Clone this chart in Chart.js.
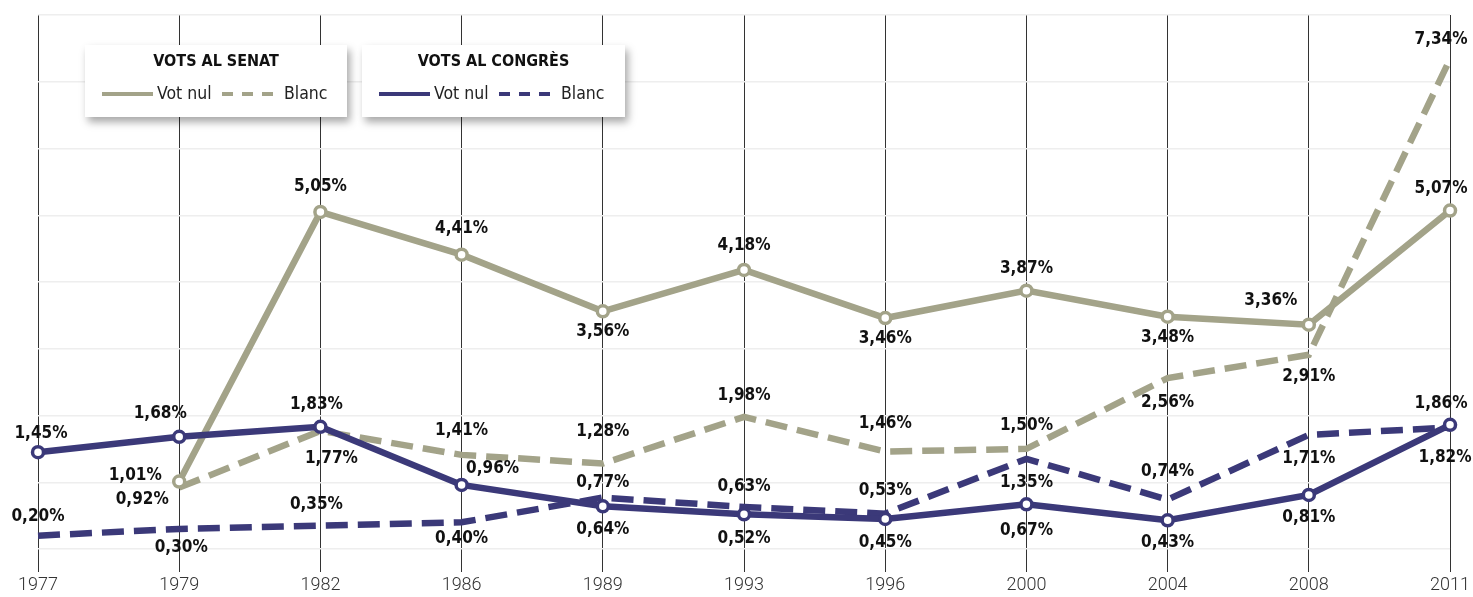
<html>
<head>
<script src="https://cdn.jsdelivr.net/npm/chart.js"></script>
<style>
    body { margin: 0; background: #fff; }
    #wrap { width: 1473px; height: 597px; }
</style>
</head>
<body>
<div id="wrap"><canvas id="chart"></canvas></div>
<script>
    // data
    const years = ['1977', '1979', '1982', '1986', '1989', '1993', '1996', '2000', '2004', '2008', '2011'];
    const senatNul = [null, 1.01, 5.05, 4.41, 3.56, 4.18, 3.46, 3.87, 3.48, 3.36, 5.07];
    const senatBlanc = [null, 0.92, 1.77, 1.41, 1.28, 1.98, 1.46, 1.50, 2.56, 2.91, 7.34];
    const congresNul = [1.45, 1.68, 1.83, 0.96, 0.64, 0.52, 0.45, 0.67, 0.43, 0.81, 1.86];
    const congresBlanc = [0.20, 0.30, 0.35, 0.40, 0.77, 0.63, 0.53, 1.35, 0.74, 1.71, 1.82];

    // where each value label sits relative to its point [dx, dy]
    const senatNulLabels = [null, [-44, -6], [0, -25], [0, -26], [0, 20], [0, -24], [0, 21], [0, -22], [0, 21], [-38, -24], [-9, -22]];
    const senatBlancLabels = [null, [-37, 12], [11, 28], [0, -24], [0, -32], [0, -21], [0, -28], [0, -23], [0, 24], [0, 22], [-9, -19]];
    const congresNulLabels = [[3, -19], [-19, -23], [-4, -22], [31, -16], [0, 23], [0, 24], [0, 24], [0, 26], [0, 22], [0, 23], [-9, -21]];
    const congresBlancLabels = [[0, -19], [2, 19], [-4, -21], [0, 16], [0, -15], [0, -20], [0, -23], [0, 24], [0, -28], [0, 24], [-5, 30]];

    const olive = '#a3a389';
    const navy = '#3b3979';

    function fmt(v) {
        return v.toFixed(2).replace('.', ',') + '%';
    }

    const valueLabels = {
        id: 'valueLabels',
        afterDatasetsDraw(chart) {
            const ctx = chart.ctx;
            ctx.save();
            ctx.font = 'bold 17px "DejaVu Sans Condensed", "DejaVu Sans", sans-serif';
            ctx.fillStyle = '#111';
            ctx.textAlign = 'center';
            ctx.textBaseline = 'middle';
            chart.data.datasets.forEach((ds, di) => {
                const meta = chart.getDatasetMeta(di);
                meta.data.forEach((pt, i) => {
                    const v = ds.data[i];
                    const off = ds.labelPos[i];
                    if (v == null || !off) return;
                    ctx.fillText(fmt(v), pt.x + off[0], pt.y + off[1]);
                });
            });
            ctx.restore();
        }
    };

    function legendBox(ctx, x, y, w, h, title, color) {
        ctx.save();
        ctx.shadowColor = 'rgba(0,0,0,0.35)';
        ctx.shadowBlur = 8;
        ctx.shadowOffsetX = 3;
        ctx.shadowOffsetY = 5;
        ctx.fillStyle = '#fff';
        ctx.fillRect(x, y, w, h);
        ctx.restore();

        ctx.save();
        ctx.fillStyle = '#111';
        ctx.textBaseline = 'middle';
        ctx.textAlign = 'center';
        ctx.font = 'bold 16px "DejaVu Sans Condensed", "DejaVu Sans", sans-serif';
        ctx.fillText(title, x + w / 2, y + 17);

        ctx.strokeStyle = color;
        ctx.lineWidth = 4;
        ctx.beginPath();
        ctx.moveTo(x + 17, y + 49);
        ctx.lineTo(x + 68, y + 49);
        ctx.stroke();
        ctx.setLineDash([11, 9]);
        ctx.beginPath();
        ctx.moveTo(x + 137, y + 49);
        ctx.lineTo(x + 188, y + 49);
        ctx.stroke();

        ctx.font = '17.5px "DejaVu Sans Condensed", "DejaVu Sans", sans-serif';
        ctx.textAlign = 'left';
        ctx.fillStyle = '#222';
        ctx.fillText('Vot nul', x + 72, y + 49);
        ctx.fillText('Blanc', x + 199, y + 49);
        ctx.restore();
    }

    const legendBoxes = {
        id: 'legendBoxes',
        beforeDatasetsDraw(chart) {
            legendBox(chart.ctx, 85, 45, 262, 72, 'VOTS AL SENAT', olive);
            legendBox(chart.ctx, 362, 45, 263, 72, 'VOTS AL CONGRÈS', navy);
        }
    };

    const data = {
        labels: years,
        datasets: [{
            label: 'Congrés vot nul',
            data: congresNul,
            labelPos: congresNulLabels,
            borderColor: navy,
            backgroundColor: '#fff',
            borderWidth: 6.5,
            pointRadius: 5.5,
            pointBorderWidth: 3.5,
            pointBorderColor: navy,
            pointBackgroundColor: '#fff',
            order: 0
        }, {
            label: 'Congrés blanc',
            data: congresBlanc,
            labelPos: congresBlancLabels,
            borderColor: navy,
            borderWidth: 6.5,
            borderDash: [22, 10],
            pointRadius: 0,
            order: 1
        }, {
            label: 'Senat vot nul',
            data: senatNul,
            labelPos: senatNulLabels,
            borderColor: olive,
            backgroundColor: '#fff',
            borderWidth: 6.5,
            pointRadius: 5.5,
            pointBorderWidth: 3.5,
            pointBorderColor: olive,
            pointBackgroundColor: '#fff',
            order: 2
        }, {
            label: 'Senat blanc',
            data: senatBlanc,
            labelPos: senatBlancLabels,
            borderColor: olive,
            borderWidth: 6.5,
            borderDash: [22, 10],
            pointRadius: 0,
            order: 3
        }]
    };

    const config = {
        type: 'line',
        data: data,
        plugins: [legendBoxes, valueLabels],
        options: {
            responsive: true,
            maintainAspectRatio: false,
            animation: false,
            clip: false,
            layout: { padding: { left: 38, right: 22, top: 15, bottom: 0 } },
            plugins: {
                legend: { display: false },
                tooltip: { enabled: false }
            },
            scales: {
                x: {
                    offset: false,
                    border: { display: false },
                    grid: {
                        color: '#333',
                        lineWidth: 1,
                        tickLength: 23,
                        tickColor: '#333'
                    },
                    ticks: {
                        padding: 3,
                        color: '#333',
                        maxRotation: 0,
                        autoSkip: false,
                        font: { family: 'Roboto', weight: 300, size: 18 }
                    },
                    afterFit(scale) { scale.height = 48; }
                },
                y: {
                    min: 0,
                    max: 8,
                    border: { display: false },
                    grid: { color: '#eeeeee', lineWidth: 1.5, drawTicks: false },
                    ticks: { display: false, stepSize: 1 },
                    afterFit(scale) { scale.width = 0; }
                }
            }
        }
    };

    const myChart = new Chart(document.getElementById('chart'), config);
</script>
</body>
</html>
